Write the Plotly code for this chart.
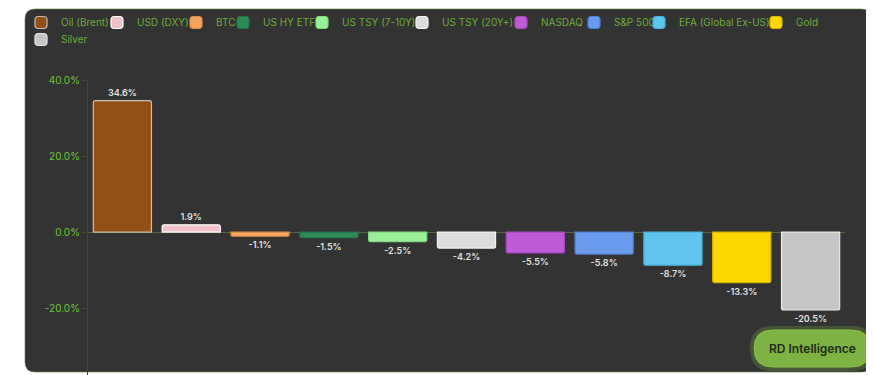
import plotly.graph_objects as go

categories = ["Oil (Brent)", "USD (DXY)", "BTC", "US HY ETF", "US TSY (7-10Y)",
              "US TSY (20Y+)", "NASDAQ", "S&P 500", "EFA (Global Ex-US)", "Gold", "Silver"]
returns = [34.6, 1.9, -1.1, -1.5, -2.5, -4.2, -5.5, -5.8, -8.7, -13.3, -20.5]
colors = ["#944F14", "#F0C0C6", "#F4A460", "#2E8B57", "#98F098", "#DCDCDC",
          "#C05AD6", "#6A9AEC", "#5EC6EE", "#FFD700", "#C6C6C6"]
borders = ["#C8BEB4", "#FFFFFF", "#D98C4A", "#267349", "#80D880", "#F2F2F2",
           "#A848C0", "#5480D0", "#4AB0D8", "#D8B400", "#E8E8E8"]
y_ticks = [-20, 0, 20, 40]

# legend entry placement (window pixels of the symbol's left edge, row centre)
legend_px = [(43, 22.5), (119, 22.5), (198, 22.5), (245, 22.5), (324, 22.5),
             (424, 22.5), (523, 22.5), (596, 22.5), (661, 22.5), (778, 22.5), (43, 39.5)]

W, H = 874, 375
OFF = 8  # page body margin
ML, MR, MT, MB = 80, 37, 72, 8
PW, PH = W - ML - MR, H - MT - MB


def px(x):
    return (x - OFF - ML) / PW


def py(y):
    return (H - MB - (y - OFF)) / PH


def rounded(x0, y0, x1, y1, r):
    return (f"M {px(x0 + r)},{py(y0)} L {px(x1 - r)},{py(y0)} "
            f"Q {px(x1)},{py(y0)} {px(x1)},{py(y0 + r)} "
            f"L {px(x1)},{py(y1 - r)} Q {px(x1)},{py(y1)} {px(x1 - r)},{py(y1)} "
            f"L {px(x0 + r)},{py(y1)} Q {px(x0)},{py(y1)} {px(x0)},{py(y1 - r)} "
            f"L {px(x0)},{py(y0 + r)} Q {px(x0)},{py(y0)} {px(x0 + r)},{py(y0)} Z")


fig = go.Figure()
legend_layouts = {}
for i, (cat, val, col, bc) in enumerate(zip(categories, returns, colors, borders)):
    lname = "legend" if i == 0 else f"legend{i + 1}"
    fig.add_trace(go.Bar(
        x=[cat], y=[val], name=cat, legend=lname,
        marker=dict(color=col, line=dict(color=bc, width=1.2), cornerradius=2),
        texttemplate="%{y:.1f}%", textposition="outside",
        textfont=dict(color="#E0E0E0", size=9, family="Inter", weight=600),
        cliponaxis=False,
    ))
    sx, sy = legend_px[i]
    legend_layouts[lname] = dict(
        orientation="h", x=px(sx - 7 - 15), y=py(sy), xanchor="left", yanchor="middle",
        font=dict(size=10, color="#6FAE38", family="Inter"),
        itemwidth=30, bgcolor="rgba(0,0,0,0)", borderwidth=0,
    )

shapes = [
    dict(type="path", xref="paper", yref="paper", path=rounded(25, 9, 871, 372, 10),
         fillcolor="#333333", line=dict(color="rgba(90,130,60,0.6)", width=1), layer="below"),
    dict(type="path", xref="paper", yref="paper", path=rounded(750, 326, 874, 371, 22),
         fillcolor="rgba(124,179,66,0.25)", line=dict(width=0), layer="above"),
    dict(type="path", xref="paper", yref="paper", path=rounded(754, 330, 870, 367, 18.5),
         fillcolor="#7CB342", line=dict(color="#8BC34A", width=1), layer="above"),
]

fig.update_layout(
    width=W, height=H,
    margin=dict(l=ML, r=MR, t=MT, b=MB, autoexpand=False),
    paper_bgcolor="#FFFFFF", plot_bgcolor="rgba(0,0,0,0)",
    font=dict(family="Inter", color="#6FB83A"),
    barmode="overlay", bargap=0.155,
    showlegend=True,
    xaxis=dict(showticklabels=False, showgrid=False, zeroline=False, showline=False,
               ticks=""),
    yaxis=dict(range=[-37.6, 40], tickvals=y_ticks,
               ticktext=[f"{v:.1f}%" for v in y_ticks],
               tickfont=dict(size=10, color="#6CC832", family="Inter"),
               showgrid=False, zeroline=True, zerolinecolor="#4E6B38", zerolinewidth=1,
               showline=True, linecolor="#3C4C32", linewidth=1,
               ticks="outside", ticklen=5, tickcolor="#3C4C32"),
    shapes=shapes,
    annotations=[dict(text="RD Intelligence", xref="paper", yref="paper",
                      x=px(812), y=py(348.5), xanchor="center", yanchor="middle",
                      showarrow=False,
                      font=dict(size=12, color="#1F2A15", family="Inter", weight=600))],
    **legend_layouts,
)

fig.write_html("out.html")
